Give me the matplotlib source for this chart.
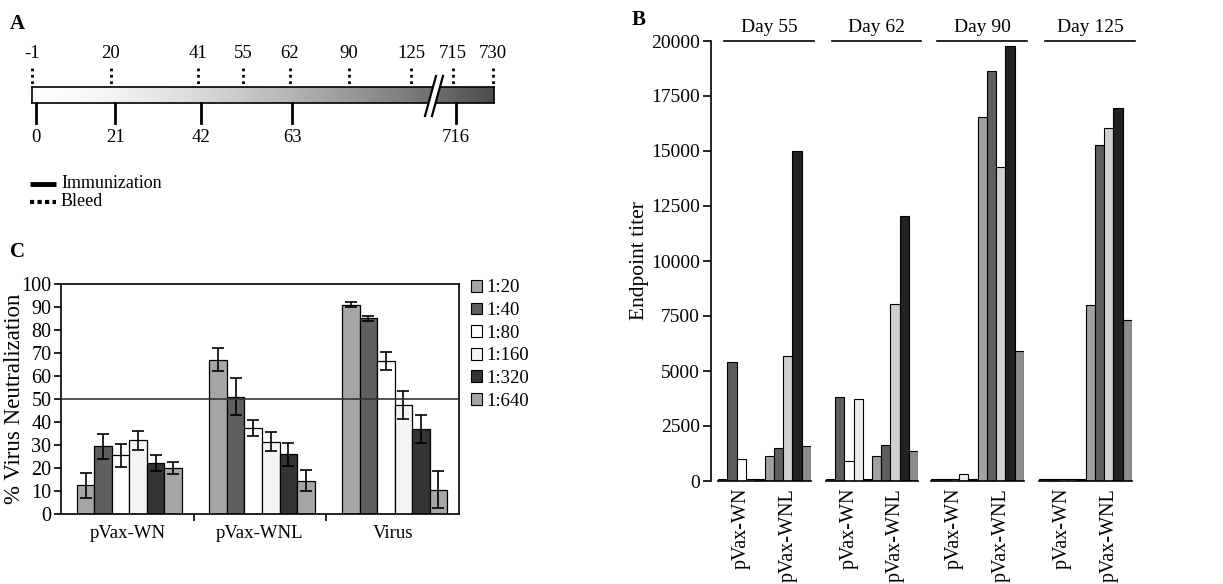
import numpy as np
import matplotlib
matplotlib.use("Agg")
import matplotlib.pyplot as plt
from matplotlib.lines import Line2D
from matplotlib.patches import Patch, Polygon

plt.rcParams['font.family'] = ['Liberation Serif', 'DejaVu Serif']

# ---------------- data ----------------
# Panel A: timeline
bleed_days = [-1, 20, 41, 55, 62, 90, 125, 715, 730]
immun_days = [0, 21, 42, 63, 716]

# Panel B: endpoint titers
b_days = ['Day 55', 'Day 62', 'Day 90', 'Day 125']
b_groups = ['pVax-WN', 'pVax-WNL']
wn_titer = [[100, 5400, 1000, 100, 100],
            [100, 3800, 900, 3750, 100],
            [100, 100, 100, 300, 100],
            [100, 100, 100, 100, 100]]
wnl_titer = [[1150, 1500, 5700, 15000, 1600],
             [1150, 1650, 8050, 12050, 1350],
             [16550, 18650, 14250, 19750, 5900],
             [8000, 15250, 16050, 16950, 7300]]
b_yticks = [0, 2500, 5000, 7500, 10000, 12500, 15000, 17500, 20000]

# Panel C: % virus neutralization
c_groups = ['pVax-WN', 'pVax-WNL', 'Virus']
c_dilutions = ['1:20', '1:40', '1:80', '1:160', '1:320', '1:640']
c_mean = [[12.5, 29.5, 25.5, 32.0, 22.0, 20.0],
          [67.0, 51.0, 37.5, 31.5, 26.0, 14.5],
          [91.0, 85.0, 66.5, 47.5, 37.0, 10.5]]
c_err = [[5.5, 5.5, 5.0, 4.0, 3.5, 2.5],
         [5.0, 8.0, 3.5, 4.0, 5.0, 4.5],
         [1.0, 1.0, 4.0, 6.0, 6.0, 8.0]]
c_yticks = list(range(0, 101, 10))

# ---------------- layout helpers ----------------
W, H = 1223, 584
fig = plt.figure(figsize=(W / 100, H / 100), dpi=100)


def box(x0, y0, x1, y1):
    return [x0 / W, 1 - y1 / H, (x1 - x0) / W, (y1 - y0) / H]


# ================= Panel A =================
# schematic (broken) time scale: day -> horizontal position
knot_days = [-1, 20, 41, 55, 62, 90, 125, 715, 730]
knot_pos = [32, 111, 198, 243, 290, 349, 411, 453, 493]


def day_x(d):
    return np.interp(d, knot_days, knot_pos)


bar_y0, bar_y1 = 87, 103
# gradient bar
axG = fig.add_axes(box(day_x(-1), bar_y0, 494, bar_y1))
t = np.linspace(0, 1, 400)
vals = 1 - 0.7 * t ** 1.5
axG.imshow(vals[None, :], cmap='gray', vmin=0, vmax=1, aspect='auto',
           extent=[0, 1, 0, 1])
axG.set_xlim(0, 1)
axG.set_ylim(0, 1)
axG.set_xticks([])
axG.set_yticks([])
for s in axG.spines.values():
    s.set_linewidth(1.2)
axG.set_zorder(1)

axA = fig.add_axes(box(0, 0, 640, 240))
axA.set_xlim(0, 640)
axA.set_ylim(240, 0)
axA.axis('off')
axA.set_zorder(2)

# break marks
bx = 433
poly = Polygon([[bx - 8, 116], [bx - 1, 116], [bx + 10, 76], [bx + 3, 76]],
               closed=True, facecolor='white', edgecolor='none', zorder=5)
axA.add_patch(poly)
axA.plot([bx - 8, bx + 3], [116, 76], color='black', lw=1.6, zorder=6,
         clip_on=False)
axA.plot([bx - 1, bx + 10], [116, 76], color='black', lw=1.6, zorder=6,
         clip_on=False)

# bleed (dotted) ticks above
for d in bleed_days:
    x = day_x(d)
    axA.plot([x, x], [68, bar_y0], color='black', lw=2,
             linestyle=(0, (1, 1.3)), solid_capstyle='butt')
    axA.text(x, 62, str(d), ha='center', va='bottom', fontsize=13.5)
# immunization (solid) ticks below
for d in immun_days:
    x = day_x(d)
    axA.plot([x, x], [bar_y1, 123], color='black', lw=2)
    axA.text(x, 129, str(d), ha='center', va='top', fontsize=13.5)

# legend A
axA.plot([30, 56], [184, 184], color='black', lw=3.5, solid_capstyle='butt')
axA.plot([30, 56], [202, 202], color='black', lw=3,
         linestyle=(0, (1, 0.8)))
axA.text(61, 184, 'Immunization', ha='left', va='center', fontsize=13)
axA.text(61, 202, 'Bleed', ha='left', va='center', fontsize=13)

fig.text(10 / W, 1 - 24 / H, 'A', fontsize=15, fontweight='bold',
         ha='left', va='center')
fig.text(632 / W, 1 - 20 / H, 'B', fontsize=15, fontweight='bold',
         ha='left', va='center')
fig.text(10 / W, 1 - 252 / H, 'C', fontsize=15, fontweight='bold',
         ha='left', va='center')

# ================= Panel B =================
wn_colors = ['#a0a0a0', '#5e5e5e', '#ffffff', '#ececec', '#222222']
wnl_colors = ['#a0a0a0', '#5e5e5e', '#d0d0d0', '#222222', '#8c8c8c']
group_px = [(718, 811), (826, 918), (931, 1024), (1039, 1132)]
yaxis_px = 711
b_top, b_bot = 41, 481

for i, day in enumerate(b_days):
    g0, g1 = group_px[i]
    bar_px = (g1 - g0) / 10.0
    left_px = yaxis_px if i == 0 else g0
    ax = fig.add_axes(box(left_px, b_top, g1, b_bot))
    xl = -0.5 - (g0 - left_px) / bar_px
    ax.set_xlim(xl, 9.5)
    ax.set_ylim(0, 20000)
    vals_i = wn_titer[i] + wnl_titer[i]
    cols = wn_colors + wnl_colors
    ax.bar(np.arange(10), vals_i, width=1.0, color=cols,
           edgecolor='black', linewidth=0.8)
    for s in ('top', 'right'):
        ax.spines[s].set_visible(False)
    ax.spines['bottom'].set_bounds(-0.5, 9.5)
    ax.spines['bottom'].set_linewidth(1.2)
    ax.set_xticks([2, 7])
    ax.set_xticklabels(b_groups, rotation=90, fontsize=14.5, va='top')
    ax.tick_params(axis='x', length=0, pad=5)
    ax.patch.set_alpha(0)
    if i == 0:
        ax.set_yticks(b_yticks)
        ax.set_yticklabels([str(v) for v in b_yticks], fontsize=14)
        ax.tick_params(axis='y', length=6, width=1.2, pad=2)
        ax.spines['left'].set_linewidth(1.2)
        ax.set_ylabel('Endpoint titer', fontsize=15.5)
        ax.yaxis.set_label_coords((649 - left_px) / (g1 - left_px), 0.5)
    else:
        ax.spines['left'].set_visible(False)
        ax.set_yticks([])
    # day header with line
    l0, l1 = g0 + 6, g1 + 3
    fig.add_artist(Line2D([l0 / W, l1 / W], [1 - 41 / H, 1 - 41 / H],
                          color='black', lw=1.2))
    fig.text((l0 + l1) / 2 / W, 1 - 27 / H, day, ha='center', va='center',
             fontsize=14)

# ================= Panel C =================
c_colors = ['#a6a6a6', '#5f5f5f', '#ffffff', '#f4f4f4', '#333333', '#a6a6a6']
axC = fig.add_axes(box(61, 284, 459, 514))
axC.set_xlim(-0.5, 2.5)
axC.set_ylim(0, 100)
bw = 0.132
xc = np.arange(len(c_groups))
for j, dil in enumerate(c_dilutions):
    xs = xc + (j - 2.5) * bw + 0.015
    m = [c_mean[g][j] for g in range(len(c_groups))]
    e = [c_err[g][j] for g in range(len(c_groups))]
    axC.bar(xs, m, width=bw, color=c_colors[j], edgecolor='black',
            linewidth=0.9, label=dil, zorder=2)
    axC.errorbar(xs, m, yerr=e, fmt='none', ecolor='black', elinewidth=1.2,
                 capsize=4, capthick=1.2, zorder=3)
axC.axhline(50, color='#333333', lw=1.2, zorder=4)
axC.set_yticks(c_yticks)
axC.set_yticklabels([str(v) for v in c_yticks], fontsize=14.5)
axC.set_xticks(xc)
axC.set_xticklabels(c_groups, fontsize=13.5)
axC.set_xticks([0.5, 1.5], minor=True)
axC.tick_params(axis='x', which='major', length=0, pad=8)
axC.tick_params(axis='x', which='minor', length=5, width=1.2, direction='out')
axC.tick_params(axis='y', length=5, width=1.2, pad=2)
for s in axC.spines.values():
    s.set_linewidth(1.2)
axC.set_ylabel('% Virus Neutralization', fontsize=16.5)
axC.yaxis.set_label_coords((25 - 61) / 398, 0.5)

handles = [Patch(facecolor=c_colors[j], edgecolor='black', linewidth=0.8)
           for j in range(len(c_dilutions))]
fig.legend(handles, c_dilutions, loc='upper left',
           bbox_to_anchor=(463 / W, 1 - 272 / H), frameon=False,
           fontsize=13.5, handlelength=0.6, handleheight=0.6,
           handletextpad=0.25, labelspacing=0.3, borderaxespad=0)

fig.savefig('out.png', dpi=100)
